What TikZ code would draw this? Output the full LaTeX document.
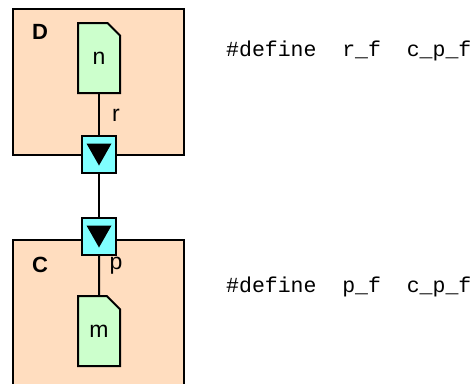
\documentclass[tikz,border=0pt]{standalone}
\usepackage{fontspec}
\setmainfont{Liberation Sans}
\setmonofont{Liberation Mono}
\usetikzlibrary{shapes.misc}
\definecolor{blockfill}{HTML}{FFDDBF}
\definecolor{taskfill}{HTML}{CCFFCC}
\definecolor{portfill}{HTML}{80FFFF}

\begin{document}
\begin{tikzpicture}[x=1pt, y=-1pt,
    block/.style={draw, line width=2pt, fill=blockfill, minimum width=171pt, inner sep=0pt},
    task/.style={draw, line width=2pt, fill=taskfill, chamfered rectangle,
                 chamfered rectangle corners=north east, chamfered rectangle xsep=7pt,
                 chamfered rectangle ysep=7pt, minimum width=42pt, minimum height=70pt,
                 inner sep=0pt, font=\fontsize{23}{27}\selectfont},
    port/.style={draw, line width=2pt, fill=portfill, minimum width=34pt,
                 minimum height=37pt, inner sep=0pt,
                 path picture={\fill[black] (path picture bounding box.center)
                   ++(-12.5pt,11pt) -- ++(25pt,0pt) -- ++(-12.5pt,-22pt) -- cycle;}},
    wire/.style={line width=2pt},
    lbl/.style={font=\fontsize{23}{27}\selectfont, inner sep=0pt},
    title/.style={font=\bfseries\fontsize{22}{26}\selectfont, inner sep=0pt},
    code/.style={anchor=west, inner sep=0pt, font=\ttfamily\fontsize{21.5}{24}\selectfont}
  ]
  \clip (0,0) rectangle (474,383);
  % Blocks
  \node[block, minimum height=146pt] (D) at (98.5,82) {};
  \node[block, minimum height=160pt] (C) at (98.5,320) {};
  \node[title] (Dname) at (40,31.5) {D};
  \node[title] (Cname) at (40,264.5) {C};
  % Tasks
  \node[task] (n) at (99,58) {n};
  \node[task] (m) at (99,331) {m};
  % Ports
  \node[port] (r) at (99,154.5) {};
  \node[port] (p) at (99,236.5) {};
  \node[lbl] (rname) at (116,115.5) {r};
  \node[lbl] (pname) at (116,265.5) {p};
  % Wires
  \draw[wire] (n) -- (r);
  \draw[wire] (r) -- (p);
  \draw[wire] (p) -- (m);
  % Defines
  \node[code] (rdef) at (226,51) {\#define\ \ r\_f\ \ c\_p\_f};
  \node[code] (pdef) at (226,287) {\#define\ \ p\_f\ \ c\_p\_f};
\end{tikzpicture}
\end{document}
